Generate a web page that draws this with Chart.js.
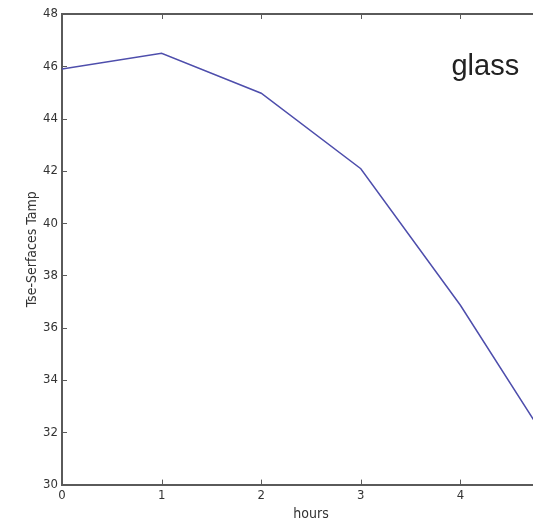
<!DOCTYPE html>
<html>
<head>
<meta charset="utf-8">
<script src="https://cdn.jsdelivr.net/npm/chart.js@4.4.1/dist/chart.umd.min.js"></script>
<style>
  html, body { margin: 0; padding: 0; background: #fff; }
  #frame { width: 533px; height: 526px; overflow: hidden; }
  #wrap { width: 600px; height: 526px; }
</style>
</head>
<body>
<div id="frame"><div id="wrap"><canvas id="tempChart"></canvas></div></div>
<script>
// Surface temperature readings over time
const hours = [0, 1, 2, 3, 4, 5];
const temps = [45.9, 46.5, 44.97, 42.08, 36.86, 30.9];
const yTicks = [30, 32, 34, 36, 38, 40, 42, 44, 46, 48];
const xTicks = [0, 1, 2, 3, 4, 5];
const seriesName = 'glass';

const axisColor = '#5a5a5a';
const tickFont = { family: 'DejaVu Sans Condensed', size: 13 };
const titleFont = { family: 'DejaVu Sans Condensed', size: 14 };

// MATLAB-style inward tick marks plus the series name inside the axes
const innerTicks = {
    id: 'innerTicks',
    afterDraw(chart) {
        const c = chart.ctx;
        const area = chart.chartArea;
        const x = chart.scales.x;
        const y = chart.scales.y;
        c.save();
        c.strokeStyle = axisColor;
        c.lineWidth = 1;
        xTicks.forEach(v => {
            const px = Math.round(x.getPixelForValue(v)) + 0.5;
            c.beginPath();
            c.moveTo(px, area.bottom);
            c.lineTo(px, area.bottom - 5);
            c.moveTo(px, area.top);
            c.lineTo(px, area.top + 5);
            c.stroke();
        });
        yTicks.forEach(v => {
            const py = Math.round(y.getPixelForValue(v)) + 0.5;
            c.beginPath();
            c.moveTo(area.left, py);
            c.lineTo(area.left + 5, py);
            c.stroke();
        });
        c.fillStyle = '#222';
        c.font = '29px "Liberation Sans", Arial, sans-serif';
        c.textBaseline = 'alphabetic';
        c.fillText(seriesName, x.getPixelForValue(3.91), y.getPixelForValue(45.66));
        c.restore();
    }
};

new Chart(document.getElementById('tempChart'), {
    type: 'line',
    data: {
        datasets: [{
            label: seriesName,
            data: hours.map((h, i) => ({ x: h, y: temps[i] })),
            borderColor: '#4e4eac',
            borderWidth: 1.5,
            pointRadius: 0,
            tension: 0,
            fill: false
        }]
    },
    options: {
        responsive: true,
        maintainAspectRatio: false,
        animation: false,
        layout: { padding: { top: 14, right: 40, bottom: 0, left: 22 } },
        plugins: {
            legend: { display: false },
            tooltip: { enabled: false }
        },
        scales: {
            x: {
                type: 'linear',
                min: 0,
                max: 5,
                afterBuildTicks: s => { s.ticks = xTicks.map(v => ({ value: v })); },
                grid: { drawOnChartArea: false, drawTicks: false },
                border: { color: axisColor, width: 2 },
                ticks: { font: tickFont, color: '#333', padding: 3 },
                title: {
                    display: true,
                    text: 'hours',
                    font: titleFont,
                    color: '#333',
                    padding: { top: 0, bottom: 3 }
                }
            },
            x2: {
                type: 'linear',
                position: 'top',
                min: 0,
                max: 5,
                grid: { drawOnChartArea: false, drawTicks: false },
                border: { color: axisColor, width: 2 },
                ticks: { display: false }
            },
            y: {
                min: 30,
                max: 48,
                afterBuildTicks: s => { s.ticks = yTicks.map(v => ({ value: v })); },
                afterFit: s => { s.width = 40; },
                grid: { drawOnChartArea: false, drawTicks: false },
                border: { color: axisColor, width: 2 },
                ticks: { font: tickFont, color: '#333', padding: 4 },
                title: {
                    display: true,
                    text: 'Tse-Serfaces Tamp',
                    font: titleFont,
                    color: '#333',
                    padding: { top: 2, bottom: 0 }
                }
            }
        }
    },
    plugins: [innerTicks]
});
</script>
</body>
</html>
